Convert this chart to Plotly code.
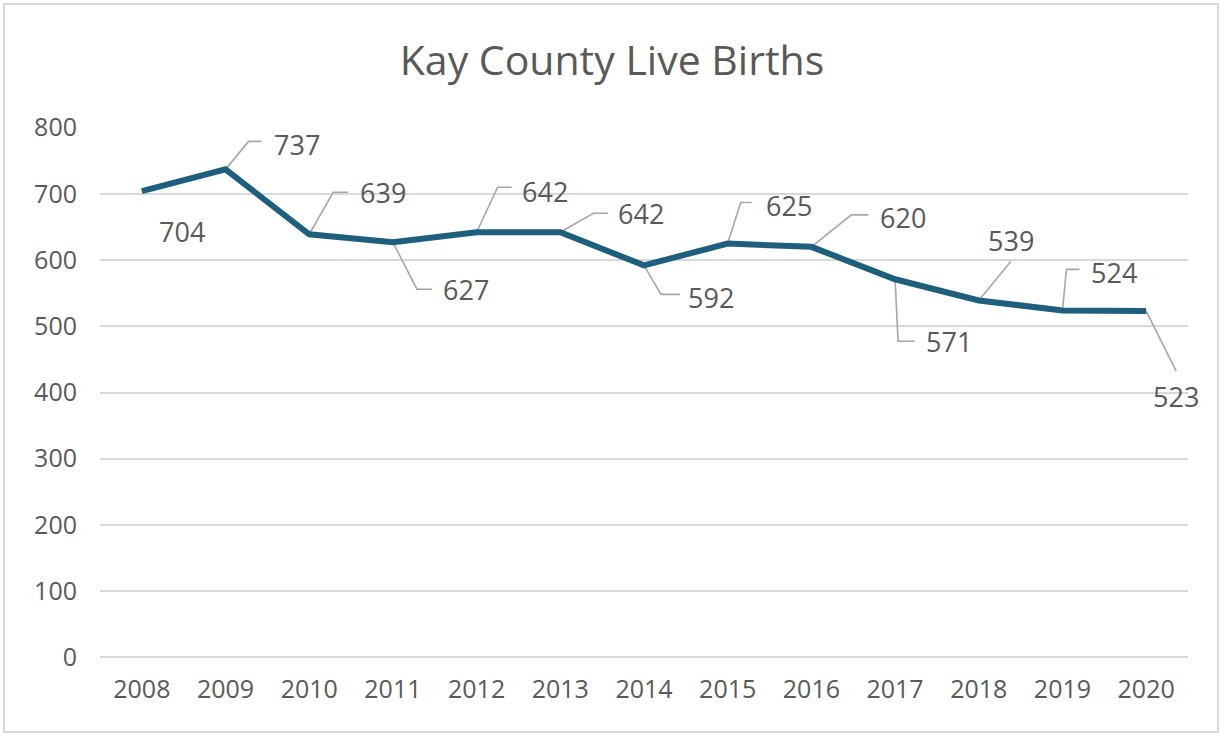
import plotly.graph_objects as go

years = ["2008", "2009", "2010", "2011", "2012", "2013", "2014",
         "2015", "2016", "2017", "2018", "2019", "2020"]
births = [704, 737, 639, 627, 642, 642, 592, 625, 620, 571, 539, 524, 523]

y_ticks = [0, 100, 200, 300, 400, 500, 600, 700, 800]

# label placement, in screen pixels relative to each point (dx, dy down)
label_off = [(40, 40), (71, -25), (74, -42), (73, 47), (68, -41), (81, -19), (67, 32),
             (61, -38), (92, -29), (54, 62), (32, -60), (52, -38), (30, 85)]
# leader lines: elbow point and end point (pixels), None = no leader
leader_off = [None, ((23, -28), (36, -28)), ((24, -42), (39, -42)), ((24, 47), (39, 47)),
              ((21, -45), (35, -45)), ((33, -19), (48, -19)), ((17, 29), (36, 29)),
              ((13, -41), (24, -41)), ((40, -32), (57, -32)), ((3, 62), (20, 62)),
              ((32, -39), (32, -39)), ((4, -41), (17, -41)), ((30, 60), (30, 60))]

W, H = 1224, 736
ML, MR, MT, MB = 100, 36, 127, 78
plot_w = W - ML - MR
plot_h = H - MT - MB
n = len(years)
y_lo, y_hi = -1, 801
px_x = plot_w / n                  # pixels per category
px_y = plot_h / (y_hi - y_lo)      # pixels per unit

TEXT = "#595959"
LINE = "#1d5f7c"
GRID = "#d9d9d9"
FONT = "Open Sans, DejaVu Sans, sans-serif"

fig = go.Figure()

# leader lines
lx, ly = [], []
for i, (v, off) in enumerate(zip(births, leader_off)):
    if off is None:
        continue
    lx += [i, i + off[0][0] / px_x, i + off[1][0] / px_x, None]
    ly += [v, v - off[0][1] / px_y, v - off[1][1] / px_y, None]
fig.add_trace(go.Scatter(x=lx, y=ly, mode="lines", line=dict(color="#a6a6a6", width=1.6),
                         hoverinfo="skip", showlegend=False))

fig.add_trace(go.Scatter(x=list(range(n)), y=births, mode="lines", name="Live Births",
                         line=dict(color=LINE, width=6), showlegend=False))

for i, (v, (dx, dy)) in enumerate(zip(births, label_off)):
    fig.add_annotation(x=i, y=v, text=str(v), showarrow=False, xshift=dx, yshift=-dy,
                       font=dict(family=FONT, size=27, color=TEXT))

fig.update_layout(
    width=W, height=H,
    margin=dict(l=ML, r=MR, t=MT, b=MB),
    paper_bgcolor="white", plot_bgcolor="white",
    title=dict(text="Kay County Live Births", x=0.5, xanchor="center", y=1 - 61 / H,
               yanchor="middle", font=dict(family=FONT, size=41, color=TEXT)),
    xaxis=dict(range=[-0.5, n - 0.5], tickvals=list(range(n)), ticktext=years,
               showgrid=False, zeroline=False, showline=False, ticks="",
               ticklabelstandoff=14,
               tickfont=dict(family=FONT, size=25, color=TEXT)),
    yaxis=dict(range=[y_lo, y_hi], tickvals=y_ticks, showgrid=True, gridcolor=GRID,
               gridwidth=2, zeroline=True, zerolinecolor=GRID, zerolinewidth=2,
               showline=False, ticks="", ticklabelstandoff=22,
               tickfont=dict(family=FONT, size=25, color=TEXT)),
)

# outer chart border
fig.add_shape(type="rect", xref="paper", yref="paper",
              x0=-(ML - 4) / plot_w, x1=1 + (MR - 6) / plot_w,
              y0=-(MB - 4) / plot_h, y1=1 + (MT - 4) / plot_h,
              line=dict(color=GRID, width=2), layer="below")

fig.write_html("out.html", config={"displayModeBar": False},
               post_script="document.body.style.margin='0';"
               "document.body.style.overflow='hidden';")
